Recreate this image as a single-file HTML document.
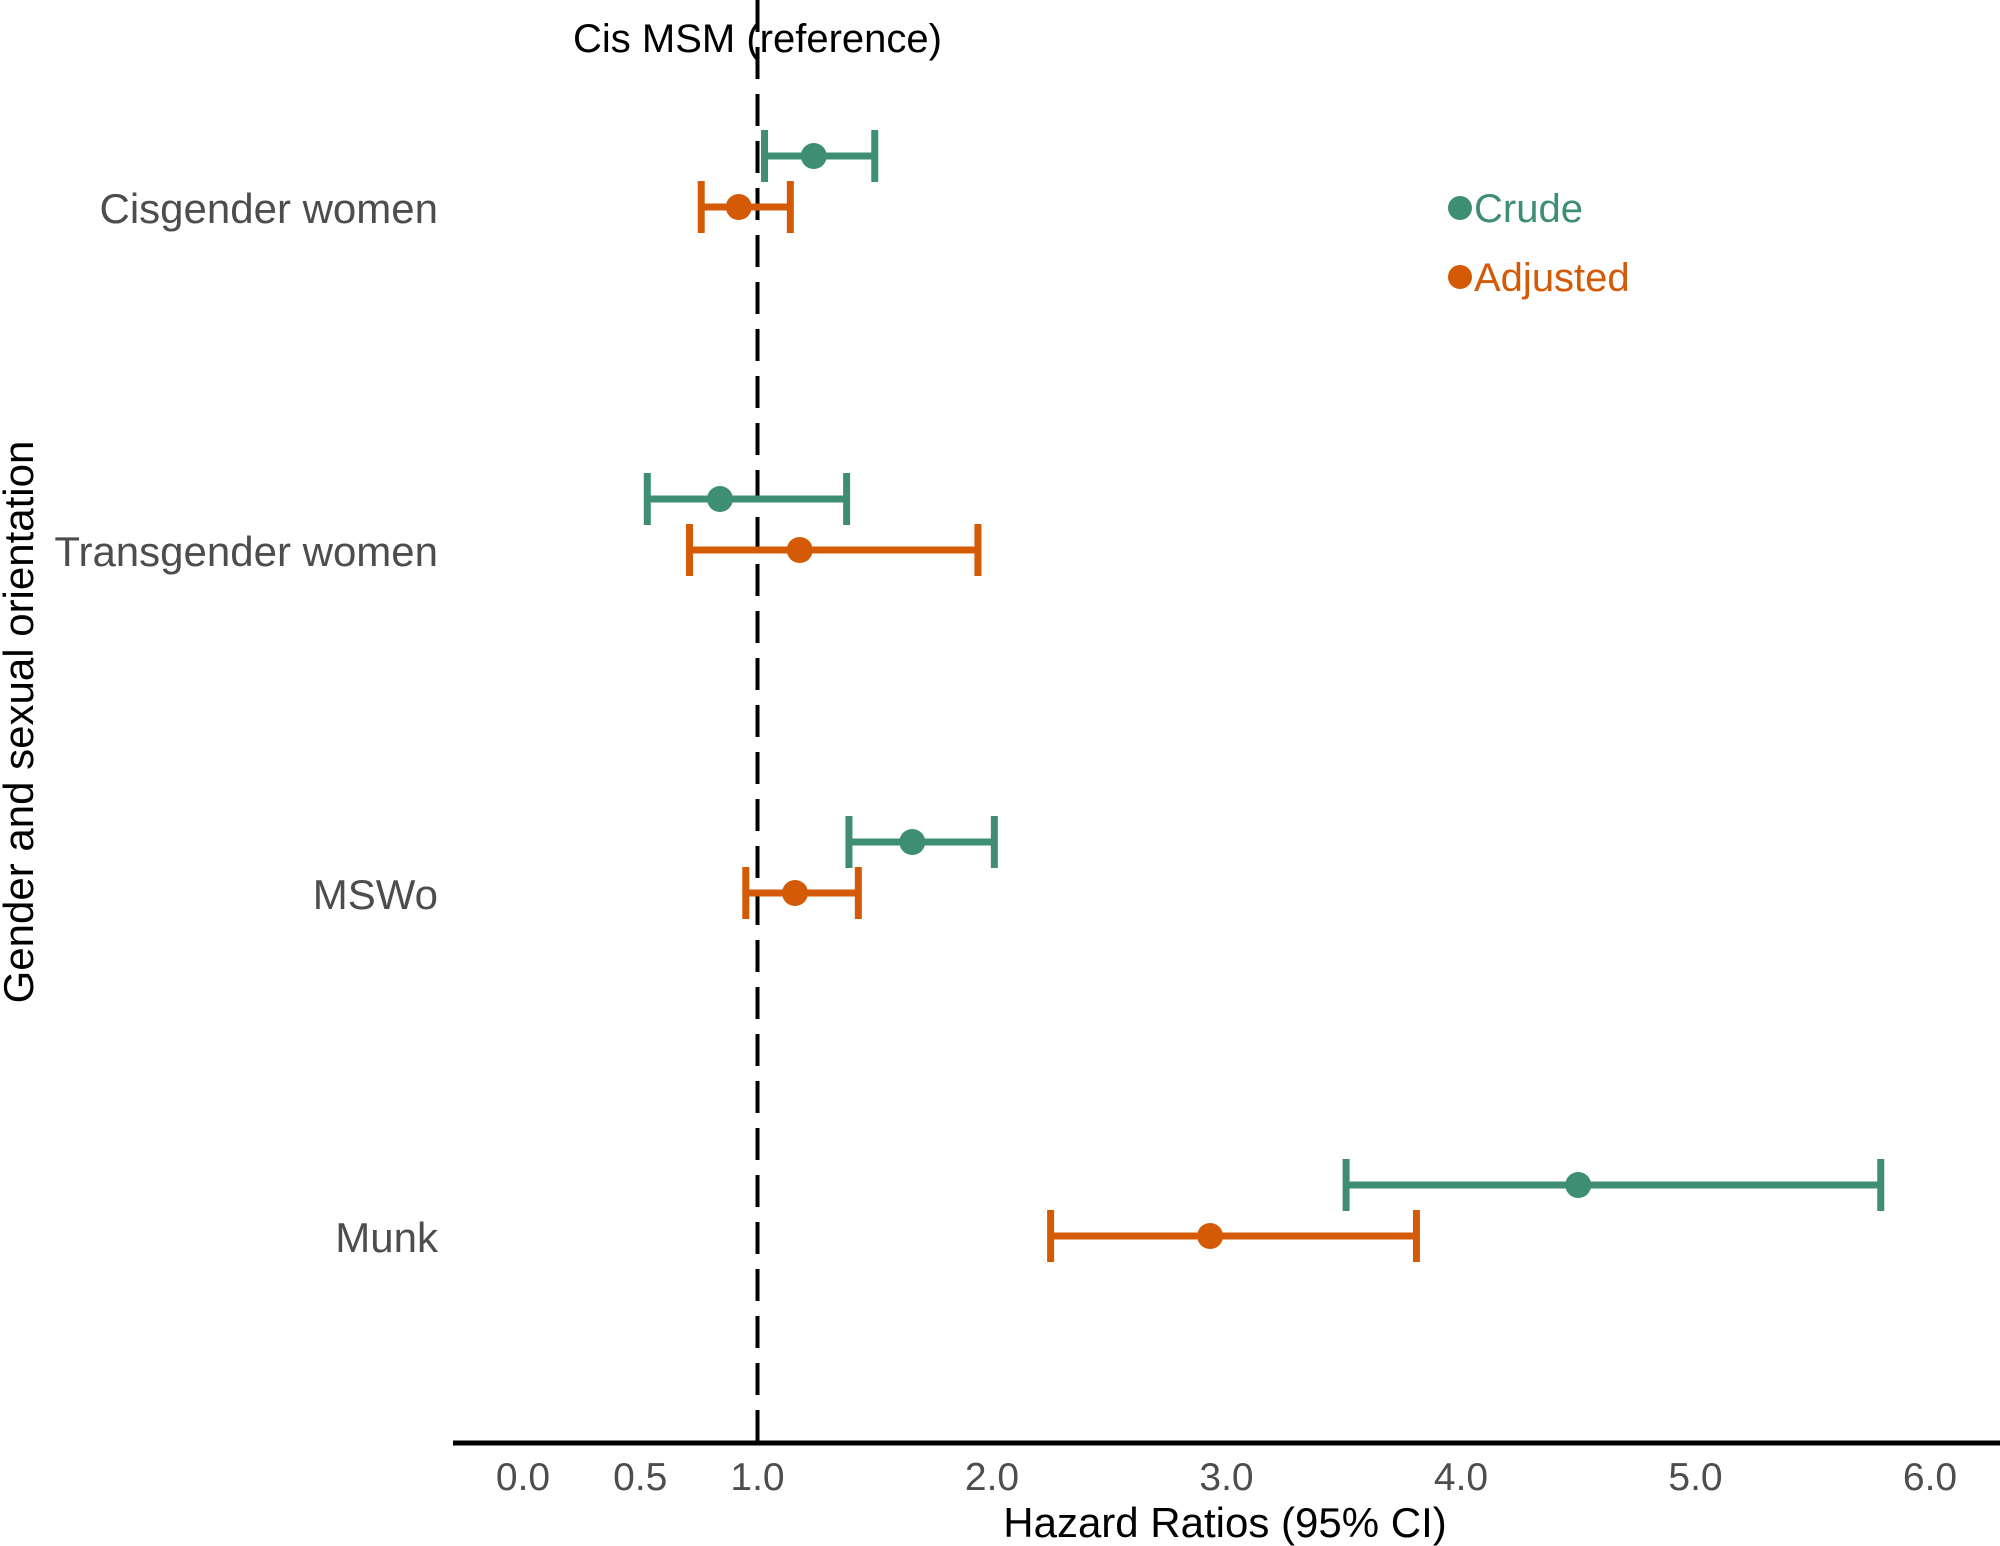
<!DOCTYPE html>
<html><head><meta charset="utf-8"><style>
html,body{margin:0;padding:0;background:#fff;}
svg{display:block;font-family:"Liberation Sans",sans-serif;}
</style></head><body>
<svg id="chart" width="2000" height="1546" viewBox="0 0 2000 1546"></svg>
<script>
const categories = ["Cisgender women","Transgender women","MSWo","Munk"];
const crudePt = [1.24, 0.84, 1.66, 4.50];
const crudeLo = [1.03, 0.53, 1.39, 3.51];
const crudeHi = [1.50, 1.38, 2.01, 5.79];
const adjPt = [0.92, 1.18, 1.16, 2.93];
const adjLo = [0.76, 0.71, 0.95, 2.25];
const adjHi = [1.14, 1.94, 1.43, 3.81];
const tickVals = [0, 0.5, 1, 2, 3, 4, 5, 6];
const tickLabels = ["0.0","0.5","1.0","2.0","3.0","4.0","5.0","6.0"];
const refValue = 1;

const svg = document.getElementById('chart');
const NS = 'http://www.w3.org/2000/svg';
const x = v => 523 + v * 234.5;
const yCat = i => 208 + i * 343;
const CRUDE = '#3e8e73', ADJ = '#d45a06';
function mk(tag, attrs, parent) {
  const e = document.createElementNS(NS, tag);
  for (const k in attrs) e.setAttribute(k, attrs[k]);
  (parent || svg).appendChild(e);
  return e;
}
const ref = mk('line', {x1:x(refValue), x2:x(refValue), y1:0, y2:1443, stroke:'#000', 'stroke-width':4, 'stroke-dasharray':'32 15'});


const rt = mk('text', {x:x(refValue), y:52, 'text-anchor':'middle', 'font-size':40, fill:'#000'});
rt.textContent = 'Cis MSM (reference)';


const ax = mk('line', {x1:453, x2:2000, y1:1443, y2:1443, stroke:'#000', 'stroke-width':5});


tickVals.forEach((v, i) => {
  const t = mk('text', {x:x(v), y:1490, 'text-anchor':'middle', 'font-size':39, fill:'#4d4d4d'});
  t.textContent = tickLabels[i];
  
  
});
const xt = mk('text', {x:1225, y:1537, 'text-anchor':'middle', 'font-size':42, fill:'#000'});
xt.textContent = 'Hazard Ratios (95% CI)';


const yt = mk('text', {x:0, y:0, 'text-anchor':'middle', 'font-size':42, fill:'#000', transform:'translate(33,722) rotate(-90)'});
yt.textContent = 'Gender and sexual orientation';



function series(lo, pt, hi, color, dy, name) {
  categories.forEach((c, i) => {
    const y = yCat(i) + dy;
    const g = mk('g', {});
    
    
    mk('line', {x1:x(lo[i]), x2:x(hi[i]), y1:y, y2:y, stroke:color, 'stroke-width':7}, g);
    mk('line', {x1:x(lo[i]), x2:x(lo[i]), y1:y-26, y2:y+26, stroke:color, 'stroke-width':7}, g);
    mk('line', {x1:x(hi[i]), x2:x(hi[i]), y1:y-26, y2:y+26, stroke:color, 'stroke-width':7}, g);
    mk('circle', {cx:x(pt[i]), cy:y, r:13, fill:color}, g);
  });
}
series(crudeLo, crudePt, crudeHi, CRUDE, -52, 'crude');
series(adjLo, adjPt, adjHi, ADJ, -1, 'adjusted');

categories.forEach((c, i) => {
  const t = mk('text', {x:438, y:yCat(i) + 15, 'text-anchor':'end', 'font-size':42, fill:'#4d4d4d'});
  t.textContent = c;
  
  
});
[['Crude', CRUDE, 208], ['Adjusted', ADJ, 277]].forEach(([lab, col, y]) => {
  const g = mk('g', {});
  
  
  mk('circle', {cx:1460, cy:y, r:12, fill:col}, g);
  const t = mk('text', {x:1474, y:y + 14, 'font-size':40, fill:col}, g);
  t.textContent = lab;
});
</script>
</body></html>
